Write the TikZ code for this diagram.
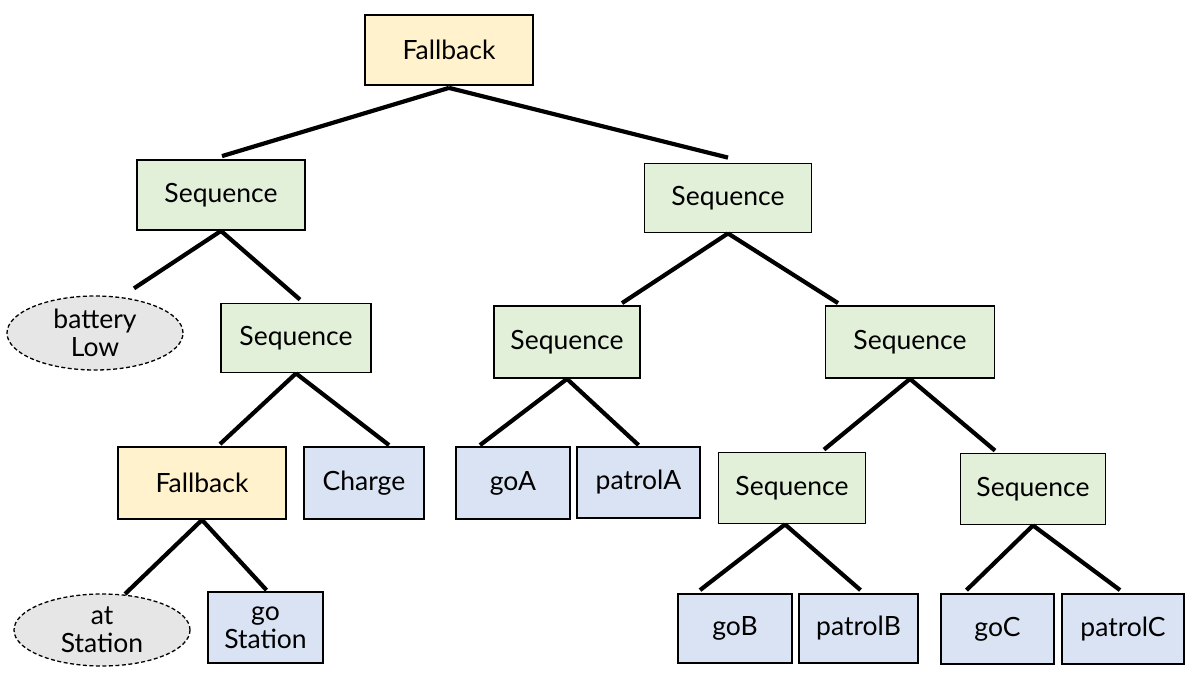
\documentclass[tikz,border=0pt]{standalone}
\usepackage{fontspec}
\setmainfont{Lato}
\usetikzlibrary{shapes.geometric}
\definecolor{fbfill}{HTML}{FFF2CC}
\definecolor{seqfill}{HTML}{E2F0D9}
\definecolor{actfill}{HTML}{DAE3F3}
\definecolor{condfill}{HTML}{E7E6E6}
\tikzset{
  base/.style={draw=black, line width=1.8pt, inner sep=0pt, font=\fontsize{26.5}{28}\selectfont, align=center},
  fbbox/.style={base, fill=fbfill, rectangle},
  seqbox/.style={base, fill=seqfill, rectangle},
  actbox/.style={base, fill=actfill, rectangle},
  condell/.style={base, fill=condfill, ellipse, line width=1.3pt, dash pattern=on 4pt off 2.5pt},
  edge/.style={line width=4.2pt, black},
}
\begin{document}
\begin{tikzpicture}[x=1pt,y=-1pt]
\useasboundingbox (0,0) rectangle (1190,680);
% nodes
\node[fbbox, minimum width=168pt, minimum height=70pt] (fb0) at (449,50) {Fallback};
\node[seqbox, minimum width=168pt, minimum height=70pt] (sL1) at (221,195) {Sequence};
\node[seqbox, minimum width=167pt, minimum height=69pt] (sR1) at (728,198) {Sequence};
\node[condell, minimum width=176pt, minimum height=74pt] (bat) at (95,333) {battery\\Low};
\node[seqbox, minimum width=150pt, minimum height=69pt] (sL2) at (296,338) {Sequence};
\node[seqbox, minimum width=146pt, minimum height=72pt] (sRA) at (567,342) {Sequence};
\node[seqbox, minimum width=169pt, minimum height=72pt] (sRB) at (910,342) {Sequence};
\node[fbbox, minimum width=168pt, minimum height=72pt] (fbL3) at (202,483) {Fallback};
\node[actbox, minimum width=120pt, minimum height=72pt] (chg) at (364,483) {Charge};
\node[actbox, minimum width=114pt, minimum height=72pt] (goA) at (513,483) {goA};
\node[actbox, minimum width=123pt, minimum height=71pt] (patA) at (638.5,482.5) {patrolA};
\node[seqbox, minimum width=147pt, minimum height=71pt] (sB1) at (792,488) {Sequence};
\node[seqbox, minimum width=145pt, minimum height=71pt] (sB2) at (1033,489) {Sequence};
\node[condell, minimum width=176pt, minimum height=72pt] (atS) at (102,630) {at\\Station};
\node[actbox, minimum width=115pt, minimum height=71pt] (goS) at (265.5,627.5) {go\\Station};
\node[actbox, minimum width=114pt, minimum height=69pt] (goB) at (735,628.5) {goB};
\node[actbox, minimum width=119pt, minimum height=69pt] (patB) at (858.5,628.5) {patrolB};
\node[actbox, minimum width=113pt, minimum height=70pt] (goC) at (997.5,629) {goC};
\node[actbox, minimum width=122pt, minimum height=70pt] (patC) at (1123,629) {patrolC};
% edges
\draw[edge] ([yshift=-2pt]fb0.south) -- ([xshift=1pt,yshift=3pt]sL1.north);
\draw[edge] ([yshift=-2pt]fb0.south) -- ([yshift=5pt]sR1.north);
\draw[edge] (sL1.south) -- ([xshift=39pt,yshift=7pt]bat.north);
\draw[edge] (sL1.south) -- ([xshift=4pt,yshift=3pt]sL2.north);
\draw[edge] (sL2.south) -- ([xshift=18pt,yshift=2pt]fbL3.north);
\draw[edge] (sL2.south) -- ([xshift=25pt,yshift=1pt]chg.north);
\draw[edge] (sR1.south) -- ([xshift=55pt,yshift=2pt]sRA.north);
\draw[edge] (sR1.south) -- ([xshift=-72pt,yshift=2pt]sRB.north);
\draw[edge] (sRA.south) -- ([xshift=-33pt,yshift=1pt]goA.north);
\draw[edge] (sRA.south) -- ([yshift=1pt]patA.north);
\draw[edge] (sRB.south) -- ([xshift=32pt,yshift=2pt]sB1.north);
\draw[edge] (sRB.south) -- ([xshift=-38pt,yshift=2pt]sB2.north);
\draw[edge] ([xshift=-7pt]sB1.south) -- ([xshift=-35pt,yshift=3pt]goB.north);
\draw[edge] ([xshift=-7pt]sB1.south) -- ([xshift=2pt,yshift=3pt]patB.north);
\draw[edge] (sB2.south) -- ([xshift=-31pt,yshift=3pt]goC.north);
\draw[edge] (sB2.south) -- ([xshift=-3pt,yshift=3pt]patC.north);
\draw[edge] (fbL3.south) -- ([xshift=23pt,yshift=36pt]atS.center);
\draw[edge] (fbL3.south) -- ([xshift=1pt,yshift=1pt]goS.north);
\end{tikzpicture}
\end{document}
